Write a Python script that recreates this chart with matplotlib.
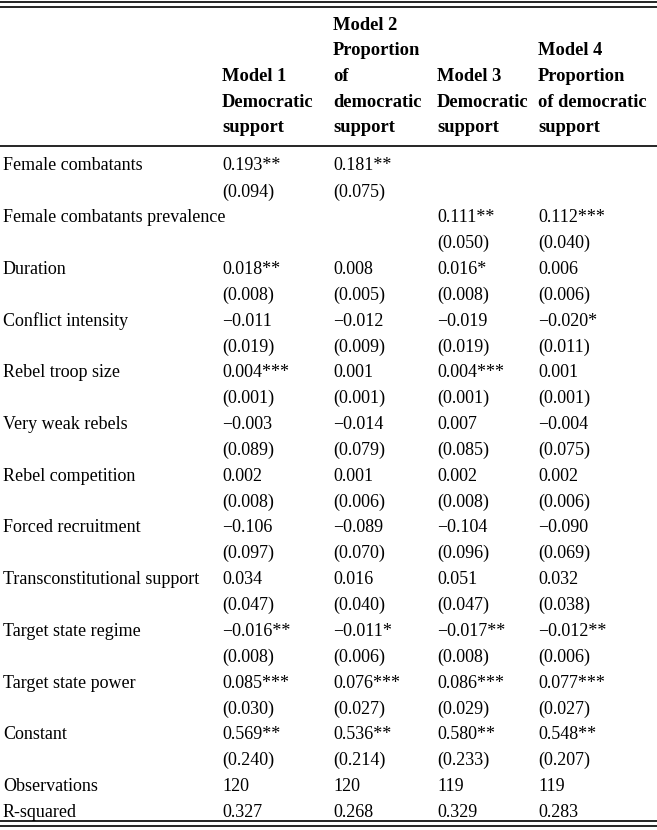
import matplotlib.pyplot as plt

plt.rcParams['font.family'] = ['Liberation Serif', 'DejaVu Serif']

headers = [
    ["Model 1", "Democratic", "support"],
    ["Model 2", "Proportion", "of", "democratic", "support"],
    ["Model 3", "Democratic", "support"],
    ["Model 4", "Proportion", "of democratic", "support"],
]

variables = ["Female combatants", "Female combatants prevalence", "Duration",
             "Conflict intensity", "Rebel troop size", "Very weak rebels",
             "Rebel competition", "Forced recruitment",
             "Transconstitutional support", "Target state regime",
             "Target state power", "Constant"]

m1_coef = ["0.193**", "", "0.018**", "\u22120.011", "0.004***", "\u22120.003",
           "0.002", "\u22120.106", "0.034", "\u22120.016**", "0.085***", "0.569**"]
m1_se = ["(0.094)", "", "(0.008)", "(0.019)", "(0.001)", "(0.089)",
         "(0.008)", "(0.097)", "(0.047)", "(0.008)", "(0.030)", "(0.240)"]
m2_coef = ["0.181**", "", "0.008", "\u22120.012", "0.001", "\u22120.014",
           "0.001", "\u22120.089", "0.016", "\u22120.011*", "0.076***", "0.536**"]
m2_se = ["(0.075)", "", "(0.005)", "(0.009)", "(0.001)", "(0.079)",
         "(0.006)", "(0.070)", "(0.040)", "(0.006)", "(0.027)", "(0.214)"]
m3_coef = ["", "0.111**", "0.016*", "\u22120.019", "0.004***", "0.007",
           "0.002", "\u22120.104", "0.051", "\u22120.017**", "0.086***", "0.580**"]
m3_se = ["", "(0.050)", "(0.008)", "(0.019)", "(0.001)", "(0.085)",
         "(0.008)", "(0.096)", "(0.047)", "(0.008)", "(0.029)", "(0.233)"]
m4_coef = ["", "0.112***", "0.006", "\u22120.020*", "0.001", "\u22120.004",
           "0.002", "\u22120.090", "0.032", "\u22120.012**", "0.077***", "0.548**"]
m4_se = ["", "(0.040)", "(0.006)", "(0.011)", "(0.001)", "(0.075)",
         "(0.006)", "(0.069)", "(0.038)", "(0.006)", "(0.027)", "(0.207)"]

observations = ["120", "120", "119", "119"]
r_squared = ["0.327", "0.268", "0.329", "0.283"]

coefs = [m1_coef, m2_coef, m3_coef, m4_coef]
ses = [m1_se, m2_se, m3_se, m4_se]

W, H = 657, 830
fig = plt.figure(figsize=(W / 100, H / 100), dpi=100)
ax = fig.add_axes([0, 0, 1, 1])
ax.set_xlim(0, W)
ax.set_ylim(H, 0)
ax.axis('off')

col_x = [222, 333, 437, 538]
fs = 13.0
fs_head = 13.3
line_h = 25.85
y0 = 166

# rules
for y in (2.5, 7.5):
    ax.plot([0, W], [y, y], color='black', lw=1.2)
ax.plot([0, W], [146, 146], color='black', lw=1.2)
for y in (820.5, 825.5):
    ax.plot([0, W], [y, y], color='black', lw=1.2)

# header, bottom aligned at y=128
for x, lines in zip(col_x, headers):
    n = len(lines)
    for k, t in enumerate(lines):
        y = 128 - (n - 1 - k) * 25.7
        ax.text(x, y, t, fontsize=fs_head, fontweight='bold', va='center', ha='left')

# body
for i, var in enumerate(variables):
    y = y0 + 2 * i * line_h
    ax.text(3, y, var, fontsize=fs, va='center', ha='left')
    for x, c, s in zip(col_x, coefs, ses):
        if c[i]:
            ax.text(x, y, c[i], fontsize=fs, va='center', ha='left')
        if s[i]:
            ax.text(x, y + line_h, s[i], fontsize=fs, va='center', ha='left')

y = y0 + 2 * len(variables) * line_h
ax.text(3, y, "Observations", fontsize=fs, va='center', ha='left')
for x, v in zip(col_x, observations):
    ax.text(x, y, v, fontsize=fs, va='center', ha='left')
y += line_h
ax.text(3, y, "R-squared", fontsize=fs, va='center', ha='left')
for x, v in zip(col_x, r_squared):
    ax.text(x, y, v, fontsize=fs, va='center', ha='left')

fig.savefig("out.png", dpi=100)
